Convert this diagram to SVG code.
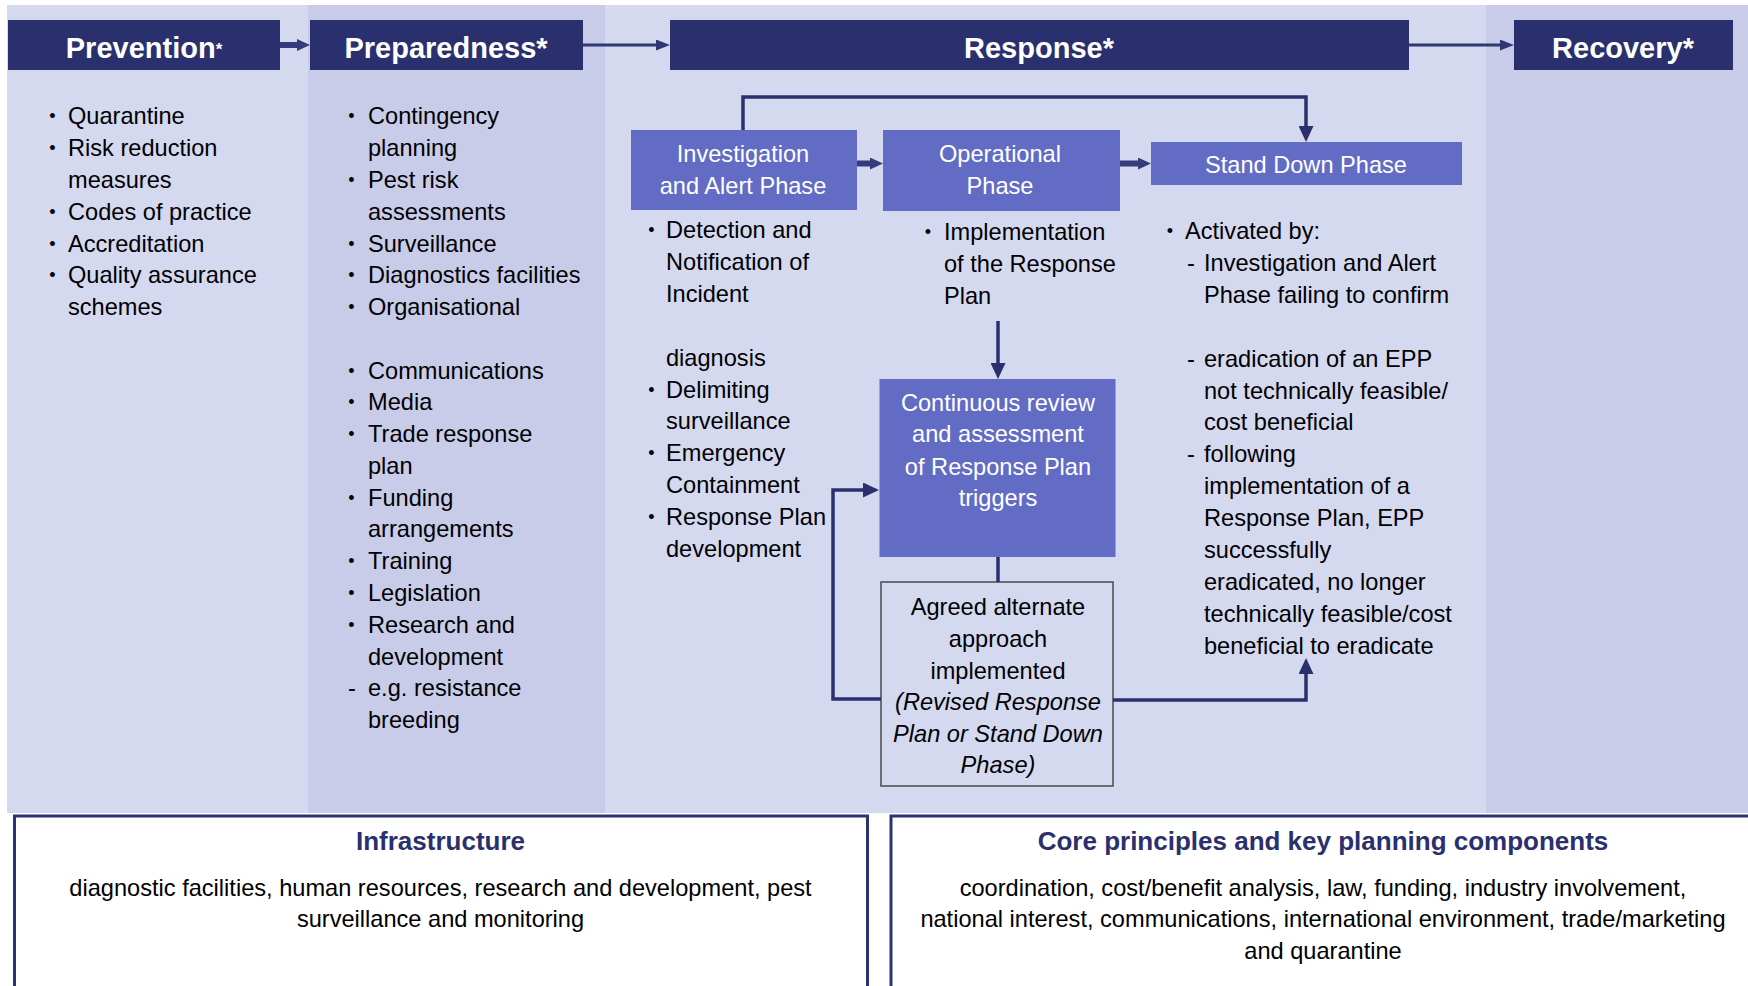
<svg xmlns="http://www.w3.org/2000/svg" width="1748" height="986" viewBox="0 0 1748 986">
  <style>
    .bg-light { fill: #d5d9ef; }
    .bg-dark { fill: #c9cce9; }
    .hdr { fill: #29306d; }
    .hdr-t { font-family: "Liberation Sans", Arial, sans-serif; font-weight: bold; font-size: 29px; fill: #ffffff; text-anchor: middle; }
    .phase { fill: #626cc5; }
    .phase-t { font-family: "Liberation Sans", Arial, sans-serif; font-size: 23.6px; fill: #ffffff; text-anchor: middle; }
    .t { font-family: "Liberation Sans", Arial, sans-serif; font-size: 23.6px; fill: #000000; }
    .b { font-family: "Liberation Sans", Arial, sans-serif; font-size: 18px; fill: #000000; text-anchor: middle; }
    .tc { text-anchor: middle; }
    .it { font-style: italic; }
    .agreed { fill: #d5d9ef; stroke: #4a4a4a; stroke-width: 1.5; }
    .panel { fill: #ffffff; stroke: #2c3372; stroke-width: 3; }
    .panel-h { font-family: "Liberation Sans", Arial, sans-serif; font-weight: bold; font-size: 26px; fill: #29306d; text-anchor: middle; }
    .conn { fill: none; stroke: #29306d; stroke-width: 3.5; }
    .conn-s { fill: none; stroke: #2f3774; stroke-width: 3; }
    .conn-b { fill: none; stroke: #343c7c; stroke-width: 6; }
  </style>
  <defs>
    <marker id="arr" markerUnits="userSpaceOnUse" markerWidth="16" markerHeight="15" refX="11" refY="7.5" orient="auto">
      <path d="M0,0 L16,7.5 L0,15 Z" fill="#29306d"/>
    </marker>
    <marker id="arr-s" markerUnits="userSpaceOnUse" markerWidth="14" markerHeight="11" refX="9" refY="5.5" orient="auto">
      <path d="M0,0 L14,5.5 L0,11 Z" fill="#2f3774"/>
    </marker>
    <marker id="arr-b" markerUnits="userSpaceOnUse" markerWidth="13" markerHeight="12" refX="6" refY="6" orient="auto">
      <path d="M0,0 L13,6 L0,12 Z" fill="#343c7c"/>
    </marker>
  </defs>

  <!-- column backgrounds -->
  <rect class="bg-light" x="7" y="5" width="301" height="808"/>
  <rect class="bg-dark" x="308" y="5" width="297" height="808"/>
  <rect class="bg-light" x="605" y="5" width="881" height="808"/>
  <rect class="bg-dark" x="1486" y="5" width="262" height="808"/>

  <!-- stage headers -->
  <g id="prevention">
    <rect class="hdr" x="8" y="20" width="272" height="50"/>
    <text class="hdr-t" x="144" y="58">Prevention<tspan font-size="17" dy="-3">*</tspan></text>
  </g>
  <g id="preparedness">
    <rect class="hdr" x="310" y="20" width="273" height="50"/>
    <text class="hdr-t" x="446" y="58">Preparedness*</text>
  </g>
  <g id="response">
    <rect class="hdr" x="670" y="20" width="739" height="50"/>
    <text class="hdr-t" x="1039" y="58">Response*</text>
  </g>
  <g id="recovery">
    <rect class="hdr" x="1514" y="20" width="219" height="50"/>
    <text class="hdr-t" x="1623" y="58">Recovery*</text>
  </g>

  <!-- prevention items -->
  <g id="prevention-list">
    <text class="b" x="52.5" y="122.4">•</text><text class="t" x="68" y="124.4">Quarantine</text>
    <text class="b" x="52.5" y="154.2">•</text><text class="t" x="68" y="156.2">Risk reduction</text>
    <text class="t" x="68" y="188">measures</text>
    <text class="b" x="52.5" y="217.7">•</text><text class="t" x="68" y="219.7">Codes of practice</text>
    <text class="b" x="52.5" y="249.5">•</text><text class="t" x="68" y="251.5">Accreditation</text>
    <text class="b" x="52.5" y="281.3">•</text><text class="t" x="68" y="283.3">Quality assurance</text>
    <text class="t" x="68" y="315">schemes</text>
  </g>

  <!-- preparedness items -->
  <g id="preparedness-list">
    <text class="b" x="351.5" y="122.4">•</text><text class="t" x="368" y="124.4">Contingency</text>
    <text class="t" x="368" y="156.2">planning</text>
    <text class="b" x="351.5" y="186">•</text><text class="t" x="368" y="188">Pest risk</text>
    <text class="t" x="368" y="219.7">assessments</text>
    <text class="b" x="351.5" y="249.5">•</text><text class="t" x="368" y="251.5">Surveillance</text>
    <text class="b" x="351.5" y="281.3">•</text><text class="t" x="368" y="283.3">Diagnostics facilities</text>
    <text class="b" x="351.5" y="313">•</text><text class="t" x="368" y="315">Organisational</text>
    <text class="b" x="351.5" y="376.6">•</text><text class="t" x="368" y="378.6">Communications</text>
    <text class="b" x="351.5" y="408.3">•</text><text class="t" x="368" y="410.3">Media</text>
    <text class="b" x="351.5" y="440.1">•</text><text class="t" x="368" y="442.1">Trade response</text>
    <text class="t" x="368" y="473.9">plan</text>
    <text class="b" x="351.5" y="503.6">•</text><text class="t" x="368" y="505.6">Funding</text>
    <text class="t" x="368" y="537.4">arrangements</text>
    <text class="b" x="351.5" y="567.2">•</text><text class="t" x="368" y="569.2">Training</text>
    <text class="b" x="351.5" y="598.9">•</text><text class="t" x="368" y="600.9">Legislation</text>
    <text class="b" x="351.5" y="630.7">•</text><text class="t" x="368" y="632.7">Research and</text>
    <text class="t" x="368" y="664.5">development</text>
    <text class="t" x="348" y="696.3">-</text><text class="t" x="368" y="696.3">e.g. resistance</text>
    <text class="t" x="368" y="728">breeding</text>
  </g>

  <!-- response phases -->
  <g id="investigation-alert">
    <rect class="phase" x="631" y="130" width="226" height="80"/>
    <text class="phase-t" x="743" y="162">Investigation</text>
    <text class="phase-t" x="743" y="193.5">and Alert Phase</text>
  </g>
  <g id="operational">
    <rect class="phase" x="883" y="130" width="237" height="81"/>
    <text class="phase-t" x="1000" y="162">Operational</text>
    <text class="phase-t" x="1000" y="193.5">Phase</text>
  </g>
  <g id="stand-down">
    <rect class="phase" x="1151" y="142" width="311" height="43"/>
    <text class="phase-t" x="1306" y="172.5">Stand Down Phase</text>
  </g>

  <g id="investigation-list">
    <text class="b" x="651.5" y="236">•</text><text class="t" x="666" y="238">Detection and</text>
    <text class="t" x="666" y="269.9">Notification of</text>
    <text class="t" x="666" y="301.8">Incident</text>
    <text class="t" x="666" y="365.6">diagnosis</text>
    <text class="b" x="651.5" y="395.5">•</text><text class="t" x="666" y="397.5">Delimiting</text>
    <text class="t" x="666" y="429.4">surveillance</text>
    <text class="b" x="651.5" y="459.3">•</text><text class="t" x="666" y="461.3">Emergency</text>
    <text class="t" x="666" y="493.2">Containment</text>
    <text class="b" x="651.5" y="523.1">•</text><text class="t" x="666" y="525.1">Response Plan</text>
    <text class="t" x="666" y="557">development</text>
  </g>

  <g id="operational-list">
    <text class="b" x="928" y="238.4">•</text><text class="t" x="944" y="240.4">Implementation</text>
    <text class="t" x="944" y="272.3">of the Response</text>
    <text class="t" x="944" y="304.2">Plan</text>
  </g>

  <g id="stand-down-list">
    <text class="b" x="1170" y="237">•</text><text class="t" x="1185" y="239">Activated by:</text>
    <text class="t" x="1187" y="271">-</text><text class="t" x="1204" y="271">Investigation and Alert</text>
    <text class="t" x="1204" y="303">Phase failing to confirm</text>
    <text class="t" x="1187" y="366.6">-</text><text class="t" x="1204" y="366.6">eradication of an EPP</text>
    <text class="t" x="1204" y="398.5">not technically feasible/</text>
    <text class="t" x="1204" y="430.4">cost beneficial</text>
    <text class="t" x="1187" y="462.3">-</text><text class="t" x="1204" y="462.3">following</text>
    <text class="t" x="1204" y="494.2">implementation of a</text>
    <text class="t" x="1204" y="526">Response Plan, EPP</text>
    <text class="t" x="1204" y="558">successfully</text>
    <text class="t" x="1204" y="590">eradicated, no longer</text>
    <text class="t" x="1204" y="622">technically feasible/cost</text>
    <text class="t" x="1204" y="654">beneficial to eradicate</text>
  </g>

  <g id="continuous-review">
    <rect class="phase" x="879.5" y="379" width="236" height="178"/>
    <text class="phase-t" x="998" y="411">Continuous review</text>
    <text class="phase-t" x="998" y="442">and assessment</text>
    <text class="phase-t" x="998" y="474.5">of Response Plan</text>
    <text class="phase-t" x="998" y="505.5">triggers</text>
  </g>

  <g id="agreed-alternate">
    <rect class="agreed" x="881" y="582" width="232" height="204"/>
    <text class="t tc" x="998" y="615">Agreed alternate</text>
    <text class="t tc" x="998" y="647">approach</text>
    <text class="t tc" x="998" y="678.5">implemented</text>
    <text class="t tc it" x="998" y="710">(Revised Response</text>
    <text class="t tc it" x="998" y="742">Plan or Stand Down</text>
    <text class="t tc it" x="998" y="773">Phase)</text>
  </g>

  <!-- connectors -->
  <g id="connectors">
    <line class="conn-b" x1="280" y1="45" x2="303" y2="45" marker-end="url(#arr-b)"/>
    <line class="conn-s" x1="583" y1="45" x2="665" y2="45" marker-end="url(#arr-s)"/>
    <line class="conn-s" x1="1409" y1="45" x2="1509" y2="45" marker-end="url(#arr-s)"/>
    <line class="conn-b" x1="857" y1="163.5" x2="876" y2="163.5" marker-end="url(#arr-b)"/>
    <line class="conn-b" x1="1120" y1="163.5" x2="1144" y2="163.5" marker-end="url(#arr-b)"/>
    <path class="conn" d="M743,130 V97 H1306 V137" marker-end="url(#arr)"/>
    <path class="conn" d="M998,321 V374" marker-end="url(#arr)"/>
    <path class="conn" d="M998,557 V582"/>
    <path class="conn" d="M881,699 H833 V490 H874" marker-end="url(#arr)"/>
    <path class="conn" d="M1113,700 H1306 V663" marker-end="url(#arr)"/>
  </g>

  <!-- bottom panels -->
  <g id="infrastructure">
    <rect class="panel" x="14.5" y="816" width="853" height="190"/>
    <text class="panel-h" x="440.5" y="850">Infrastructure</text>
    <text class="t tc" x="440.5" y="896">diagnostic facilities, human resources, research and development, pest</text>
    <text class="t tc" x="440.5" y="927">surveillance and monitoring</text>
  </g>
  <g id="core-principles">
    <rect class="panel" x="891" y="816" width="880" height="190"/>
    <text class="panel-h" x="1323" y="850">Core principles and key planning components</text>
    <text class="t tc" x="1323" y="896">coordination, cost/benefit analysis, law, funding, industry involvement,</text>
    <text class="t tc" x="1323" y="927">national interest, communications, international environment, trade/marketing</text>
    <text class="t tc" x="1323" y="958.5">and quarantine</text>
  </g>
</svg>
